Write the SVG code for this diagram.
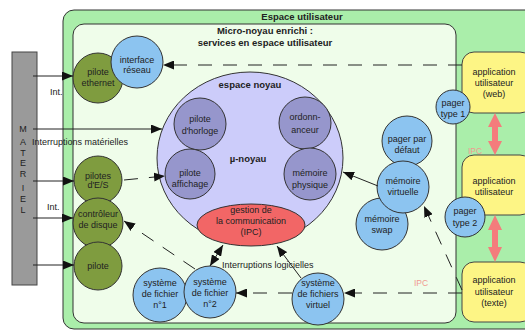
<svg xmlns="http://www.w3.org/2000/svg" width="525" height="332" viewBox="0 0 525 332">
<defs>
<marker id="ah" markerUnits="userSpaceOnUse" markerWidth="12" markerHeight="9" refX="11" refY="4.5" orient="auto-start-reverse"><path d="M0,0 L11,4.5 L0,9 z" fill="#111"/></marker>
<style>
text{font-family:"Liberation Sans",Arial,sans-serif;font-size:9px;fill:#222;text-anchor:middle}
.b{font-weight:bold;font-size:9.5px}
.st{text-anchor:start}
.n{stroke:#333;stroke-width:1}
.g{fill:#7f9c3f}
.bl{fill:#8cc4f0}
.pu{fill:#9696cc}
.ye{fill:#fdf585;stroke:#444;stroke-width:1}
.ln{fill:none;stroke:#222;stroke-width:1}
.da{stroke-dasharray:14,11}
.ipc{fill:#f09a90;font-size:8.5px}
.pk{fill:#f47c7c}
</style>
</defs>
<rect width="525" height="332" fill="#ffffff"/>
<g id="espace-utilisateur">
<rect x="63" y="10" width="475" height="319" rx="11" fill="#aaeeaa" stroke="#333" stroke-width="1"/>
<text class="b" x="302" y="20">Espace utilisateur</text>
</g>
<g id="micro-noyau">
<rect x="73" y="24" width="383" height="299" rx="11" fill="#effdea" stroke="#333" stroke-width="1"/>
<text class="b" x="265" y="34">Micro-noyau enrichi :</text>
<text class="b" x="265" y="46">services en espace utilisateur</text>
</g>
<g id="materiel">
<rect x="12" y="52" width="25" height="233" fill="#9a9a9a" stroke="#444" stroke-width="1"/>
<text x="23" y="132">M</text><text x="23" y="145">A</text><text x="23" y="156">T</text><text x="23" y="166">E</text>
<text x="23" y="177">R</text><text x="23" y="191">I</text><text x="23" y="202">E</text><text x="23" y="213">L</text>
</g>
<g id="noyau">
<ellipse class="n" cx="250" cy="158" rx="93" ry="86" fill="#ccccfa"/>
<text class="b" x="250" y="88">espace noyau</text>
<text class="b" x="248" y="162">µ-noyau</text>
</g>
<g id="pilote-horloge"><circle class="n pu" cx="200" cy="124" r="26"/><text x="200" y="122">pilote</text><text x="200" y="134">d'horloge</text></g>
<g id="ordonnanceur"><circle class="n pu" cx="305" cy="123" r="26"/><text x="305" y="120">ordonn-</text><text x="305" y="133">anceur</text></g>
<g id="pilote-affichage"><circle class="n pu" cx="190" cy="174" r="25"/><text x="190" y="176">pilote</text><text x="190" y="187">affichage</text></g>
<g id="memoire-physique"><circle class="n pu" cx="310" cy="174" r="26"/><text x="310" y="176">mémoire</text><text x="310" y="188">physique</text></g>
<g id="ipc"><ellipse class="n" cx="251" cy="225" rx="54" ry="21" fill="#f26666"/><text x="251" y="213">gestion de</text><text x="251" y="224">la communication</text><text x="251" y="235">(IPC)</text></g>
<g id="pilote-ethernet"><circle class="n g" cx="98" cy="78" r="25"/><text x="98" y="75">pilote</text><text x="98" y="86">ethernet</text></g>
<g id="interface-reseau"><circle class="n bl" cx="137" cy="62" r="26"/><text x="137" y="63">interface</text><text x="137" y="73">réseau</text></g>
<g id="pilotes-es"><circle class="n g" cx="98" cy="180" r="24"/><text x="98" y="179">pilotes</text><text x="98" y="188">d'E/S</text></g>
<g id="controleur-disque"><circle class="n g" cx="98" cy="223" r="25"/><text x="98" y="217">contrôleur</text><text x="98" y="228">de disque</text></g>
<g id="pilote"><circle class="n g" cx="98" cy="266" r="24"/><text x="98" y="269">pilote</text></g>
<g id="app-web"><rect class="ye" x="462" y="52" width="70" height="61" rx="12"/><text x="494" y="75">application</text><text x="494" y="86">utilisateur</text><text x="494" y="97">(web)</text></g>
<g id="app-2"><rect class="ye" x="462" y="155" width="70" height="60" rx="12"/><text x="494" y="184">application</text><text x="494" y="195">utilisateur</text></g>
<g id="app-texte"><rect class="ye" x="462" y="262" width="70" height="60" rx="12"/><text x="494" y="283">application</text><text x="494" y="295">utilisateur</text><text x="494" y="306">(texte)</text></g>
<g id="pager-type-1"><circle class="n bl" cx="453" cy="107" r="17"/><text x="453" y="106">pager</text><text x="453" y="117">type 1</text></g>
<g id="pager-type-2"><circle class="n bl" cx="465" cy="217" r="20"/><text x="465" y="214">pager</text><text x="465" y="226">type 2</text></g>
<g id="pager-defaut"><circle class="n bl" cx="407" cy="141" r="25"/><text x="407" y="142">pager par</text><text x="407" y="153">défaut</text></g>
<g id="memoire-swap"><circle class="n bl" cx="382" cy="224" r="26"/><text x="382" y="222">mémoire</text><text x="382" y="233">swap</text></g>
<g id="memoire-virtuelle"><circle class="n bl" cx="403" cy="187" r="26"/><text x="403" y="184">mémoire</text><text x="403" y="195">virtuelle</text></g>
<g id="sf-virtuel"><circle class="n bl" cx="318" cy="299" r="26"/><text x="318" y="286">système</text><text x="318" y="297">de fichiers</text><text x="318" y="308">virtuel</text></g>
<g id="sf-1"><circle class="n bl" cx="160" cy="295" r="27"/><text x="160" y="286">système</text><text x="160" y="297">de fichier</text><text x="160" y="308">n°1</text></g>
<g id="sf-2"><circle class="n bl" cx="210" cy="292" r="26"/><text x="210" y="285">système</text><text x="210" y="296">de fichier</text><text x="210" y="307">n°2</text></g>
<g id="connectors">
<path class="ln" d="M33,76 H73" marker-end="url(#ah)"/>
<path class="ln" d="M33,129 H162" stroke="#555" marker-end="url(#ah)"/>
<path class="ln" d="M33,181 H74" marker-end="url(#ah)"/>
<path class="ln" d="M33,218 H73" marker-end="url(#ah)"/>
<path class="ln" d="M33,265 H74" marker-end="url(#ah)"/>
<path class="ln da" d="M124,180 L165,176" marker-end="url(#ah)"/>
<path class="ln da" d="M195,269 L124,221" marker-end="url(#ah)"/>
<path class="ln" d="M210,266 L223,245" marker-start="url(#ah)" marker-end="url(#ah)"/>
<path class="ln" d="M301,278 L277,246" marker-end="url(#ah)"/>
<path class="ln da" d="M462,293 H344" marker-end="url(#ah)"/>
<path class="ln da" d="M292,293 H236" marker-end="url(#ah)"/>
<path class="ln da" d="M462,290 L424,206" marker-end="url(#ah)"/>
<path class="ln" d="M378,186 L343,172" marker-end="url(#ah)"/>
<path class="ln da" d="M462,65 H163" marker-end="url(#ah)"/>
<path class="pk" d="M495,113 L488,127 L492,127 L492,141 L488,141 L495,155 L502,141 L498,141 L498,127 L502,127 z"/>
<path class="pk" d="M495,215 L488,230 L492,230 L492,247 L488,247 L495,262 L502,247 L498,247 L498,230 L502,230 z"/>
<text class="st" x="50" y="95">Int.</text>
<text class="st" x="47" y="210">Int.</text>
<text class="st" x="32" y="145">Interruptions matérielles</text>
<text class="st" x="222" y="268">Interruptions logicielles</text>
<text class="ipc" x="475" y="154">IPC</text>
<text class="ipc" x="421" y="286">IPC</text>
</g>
</svg>
